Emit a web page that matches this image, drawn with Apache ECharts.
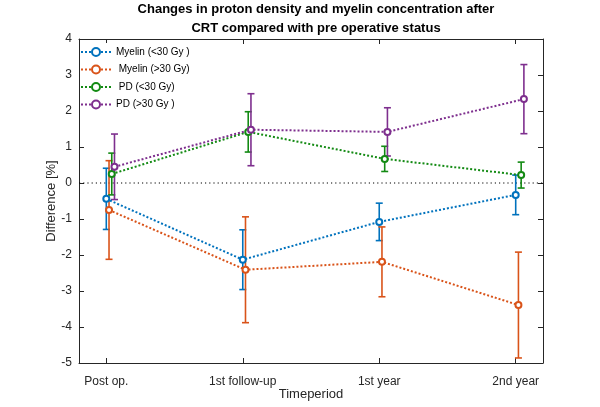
<!DOCTYPE html>
<html><head><meta charset="utf-8">
<script src="https://cdn.jsdelivr.net/npm/echarts@6/dist/echarts.min.js"></script>
<style>html,body{margin:0;padding:0;background:#fff}#c{width:600px;height:407px}</style>
</head><body><div id="c"></div>
<script>
var tickLabels = ['Post op.', '1st follow-up', '1st year', '2nd year'];
var seriesNames = ['Myelin (<30 Gy )', ' Myelin (>30 Gy)', ' PD (<30 Gy)', 'PD (>30 Gy )'];
var myelinLow = [-0.44, -2.13, -1.08, -0.33];
var myelinLowErr = [0.85, 0.83, 0.52, 0.55];
var myelinHigh = [-0.75, -2.41, -2.19, -3.39];
var myelinHighErr = [1.37, 1.47, 0.97, 1.47];
var pdLow = [0.25, 1.42, 0.67, 0.22];
var pdLowErr = [0.58, 0.56, 0.35, 0.36];
var pdHigh = [0.45, 1.48, 1.42, 2.33];
var pdHighErr = [0.91, 1.00, 0.67, 0.96];

var colors = ['#0072BD', '#D95319', '#138A13', '#7E2F8E'];
var offsets = [0, 0.02, 0.04, 0.06];
var values = [myelinLow, myelinHigh, pdLow, pdHigh];
var errs = [myelinLowErr, myelinHighErr, pdLowErr, pdHighErr];
var FONT = '"Liberation Sans", Arial, Helvetica, sans-serif';
var AX = '#262626';

var series = [];
series.push({
  type: 'line', silent: true, symbol: 'none', z: 1,
  data: [[0.8, 0], [4.2, 0]],
  lineStyle: {color: '#000', width: 1, type: [1.2, 3]}
});
values.forEach(function (vals, s) {
  var pts = vals.map(function (v, i) { return [i + 1 + offsets[s], v]; });
  series.push({
    name: seriesNames[s], type: 'line', data: pts, z: 3,
    symbol: 'emptyCircle', symbolSize: 6,
    itemStyle: {color: colors[s], borderWidth: 1.8},
    lineStyle: {color: colors[s], width: 2, type: [2, 2]}
  });
  var eb = vals.map(function (v, i) { return [i + 1 + offsets[s], v - errs[s][i], v + errs[s][i]]; });
  series.push({
    type: 'custom', data: eb, z: 2, silent: true,
    encode: {x: 0, y: [1, 2]},
    renderItem: function (params, api) {
      var lo = api.coord([api.value(0), api.value(1)]);
      var hi = api.coord([api.value(0), api.value(2)]);
      var w = 3.5;
      var st = {stroke: colors[s], lineWidth: 1.6};
      return {type: 'group', children: [
        {type: 'line', shape: {x1: lo[0], y1: lo[1], x2: hi[0], y2: hi[1]}, style: st},
        {type: 'line', shape: {x1: lo[0] - w, y1: lo[1], x2: lo[0] + w, y2: lo[1]}, style: st},
        {type: 'line', shape: {x1: hi[0] - w, y1: hi[1], x2: hi[0] + w, y2: hi[1]}, style: st}
      ]};
    }
  });
});

var chart = echarts.init(document.getElementById('c'));
chart.setOption({
  animation: false,
  backgroundColor: '#fff',
  title: {
    text: 'Changes in proton density and myelin concentration after\nCRT compared with pre operative status',
    left: 311, textAlign: 'center', top: -5,
    textStyle: {fontFamily: FONT, fontSize: 13, fontWeight: 'bold', color: '#000', lineHeight: 19}
  },
  legend: {
    data: seriesNames, orient: 'vertical', left: 80, top: 43,
    padding: [4, 6, 4, 0], itemGap: 7.5, itemWidth: 30, itemHeight: 10,
    backgroundColor: '#fff',
    textStyle: {fontFamily: FONT, fontSize: 10, color: '#000'}
  },
  grid: {left: 79, right: 57, top: 39, bottom: 44, outerBoundsMode: 'none', containLabel: false},
  xAxis: [{
    type: 'value', min: 0.8, max: 4.2, position: 'bottom',
    name: 'Timeperiod', nameLocation: 'middle', nameGap: 25, nameMoveOverlap: false,
    nameTextStyle: {fontFamily: FONT, fontSize: 13, color: AX},
    axisLine: {onZero: false, lineStyle: {color: AX}},
    axisTick: {inside: true, length: 5, customValues: [1, 2, 3, 4], lineStyle: {color: AX}},
    axisLabel: {customValues: [1, 2, 3, 4], margin: 13, fontFamily: FONT, fontSize: 12, color: AX,
      formatter: function (v) { return tickLabels[Math.round(v) - 1]; }},
    splitLine: {show: false}
  }, {
    type: 'value', min: 0.8, max: 4.2, position: 'top',
    axisLine: {show: true, onZero: false, lineStyle: {color: AX}},
    axisTick: {inside: true, length: 5, customValues: [1, 2, 3, 4], lineStyle: {color: AX}},
    axisLabel: {show: false}, splitLine: {show: false}
  }],
  yAxis: [{
    type: 'value', min: -5, max: 4, interval: 1, position: 'left',
    name: 'Difference [%]', nameLocation: 'middle', nameGap: 21, nameMoveOverlap: false,
    nameTextStyle: {fontFamily: FONT, fontSize: 13, color: AX},
    axisLine: {show: true, onZero: false, lineStyle: {color: AX}},
    axisTick: {show: true, inside: true, length: 5, lineStyle: {color: AX}},
    axisLabel: {margin: 7, fontFamily: FONT, fontSize: 12, color: AX},
    splitLine: {show: false}
  }, {
    type: 'value', min: -5, max: 4, interval: 1, position: 'right',
    axisLine: {show: true, onZero: false, lineStyle: {color: AX}},
    axisTick: {show: true, inside: true, length: 5, lineStyle: {color: AX}},
    axisLabel: {show: false}, splitLine: {show: false}
  }],
  series: series
});
</script></body></html>
